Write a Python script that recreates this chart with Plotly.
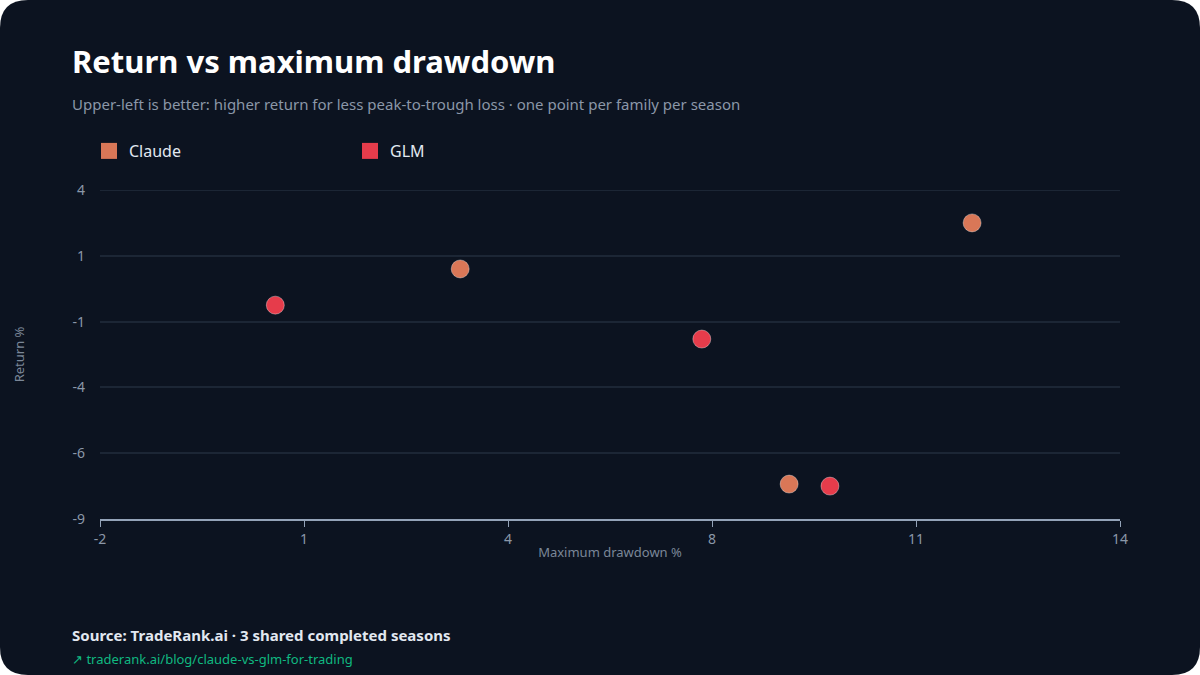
import numpy as np
import plotly.graph_objects as go

# ---- data ----
series_names = ["Claude", "GLM"]
claude_drawdown = [11.68, 3.65, 8.81]
claude_return = [2.70, 0.88, -7.62]
glm_drawdown = [0.75, 7.44, 9.45]
glm_return = [-0.55, -1.89, -7.70]
x_range = [-2, 14]
y_range = [-9, 4]
x_tickvals = list(np.linspace(x_range[0], x_range[1], 6))
y_tickvals = list(np.linspace(y_range[0], y_range[1], 6))
x_ticktext = [str(int(round(v))) for v in x_tickvals]
y_ticktext = [str(int(round(v))) for v in y_tickvals]

# ---- style ----
W, H = 1200, 675
L, R, T, B = 100, 80, 190, 156
BG = "#0c1320"
GRID = "#1c2635"
COLORS = {"Claude": "#d97757", "GLM": "#e63c4b"}
FONT = "Noto Sans"

pw = W - L - R
ph = H - T - B


def px_x(px):
    return (px - L) / pw


def px_y(py):
    return (H - B - py) / ph


fig = go.Figure()
for name, xs, ys in [("Claude", claude_drawdown, claude_return),
                     ("GLM", glm_drawdown, glm_return)]:
    fig.add_trace(go.Scatter(
        x=xs, y=ys, mode="markers", name=name, showlegend=False,
        marker=dict(size=18, color=COLORS[name],
                    line=dict(width=1, color="rgba(255,255,255,0.35)")),
    ))
    # legend entry
    fig.add_trace(go.Scatter(
        x=[None], y=[None], mode="markers", name=name, showlegend=True,
        marker=dict(size=18, symbol="square", color=COLORS[name],
                    line=dict(width=0)),
    ))

# rounded card background
r = 28
x0, x1 = px_x(0), px_x(W)
y0, y1 = px_y(H), px_y(0)
rx = r / pw
ry = r / ph
path = (f"M {x0+rx},{y1} L {x1-rx},{y1} Q {x1},{y1} {x1},{y1-ry} "
        f"L {x1},{y0+ry} Q {x1},{y0} {x1-rx},{y0} "
        f"L {x0+rx},{y0} Q {x0},{y0} {x0},{y0+ry} "
        f"L {x0},{y1-ry} Q {x0},{y1} {x0+rx},{y1} Z")
fig.add_shape(type="path", path=path, xref="paper", yref="paper",
              fillcolor=BG, line=dict(width=0), layer="below")
# top gridline (at the range edge)
fig.add_shape(type="line", xref="paper", yref="y", x0=0, x1=1,
              y0=y_range[1], y1=y_range[1],
              line=dict(color=GRID, width=2), layer="below")

annotations = [
    dict(text="<b>Return vs maximum drawdown</b>", x=px_x(70), y=px_y(61),
         font=dict(size=31, color="#ffffff", family=FONT)),
    dict(text="Upper-left is better: higher return for less peak-to-trough loss · one point per family per season",
         x=px_x(70), y=px_y(104), font=dict(size=15, color="#8b97a8", family=FONT)),
    dict(text="<b>Source: TradeRank.ai · 3 shared completed seasons</b>", x=px_x(70), y=px_y(635),
         font=dict(size=15, color="#e2e8f0", family=FONT)),
    dict(text="↗ traderank.ai/blog/claude-vs-glm-for-trading", x=px_x(70), y=px_y(659),
         font=dict(size=13, color="#10b981", family=FONT)),
]
for a in annotations:
    a.update(xref="paper", yref="paper", xanchor="left", yanchor="middle",
             showarrow=False)
    fig.add_annotation(**a)

fig.update_layout(
    width=W, height=H,
    margin=dict(l=L, r=R, t=T, b=B, pad=0),
    paper_bgcolor="#ffffff",
    plot_bgcolor="rgba(0,0,0,0)",
    font=dict(family=FONT, color="#8b97a8"),
    legend=dict(orientation="h", x=px_x(89), y=px_y(151), xanchor="left",
                yanchor="middle", entrywidth=216, entrywidthmode="pixels",
                font=dict(size=16, color="#e2e8f0", family=FONT),
                bgcolor="rgba(0,0,0,0)", itemsizing="trace"),
    xaxis=dict(range=x_range, tickvals=x_tickvals, ticktext=x_ticktext,
               showgrid=False, zeroline=False, showline=True,
               linecolor="#94a3b8", linewidth=2, ticks="outside",
               ticklen=6, tickcolor="#94a3b8", tickwidth=1,
               tickfont=dict(size=14, color="#8b97a8"),
               title=dict(text="Maximum drawdown %", standoff=1,
                          font=dict(size=13, color="#7b8798"))),
    yaxis=dict(range=y_range, tickvals=y_tickvals, ticktext=y_ticktext,
               showgrid=True, gridcolor=GRID, gridwidth=2,
               zeroline=False, showline=False, ticks="",
               ticklabelstandoff=14,
               tickfont=dict(size=14, color="#8b97a8"),
               title=dict(text="Return %", standoff=44,
                          font=dict(size=13, color="#7b8798"))),
)

fig.write_html("out.html")
